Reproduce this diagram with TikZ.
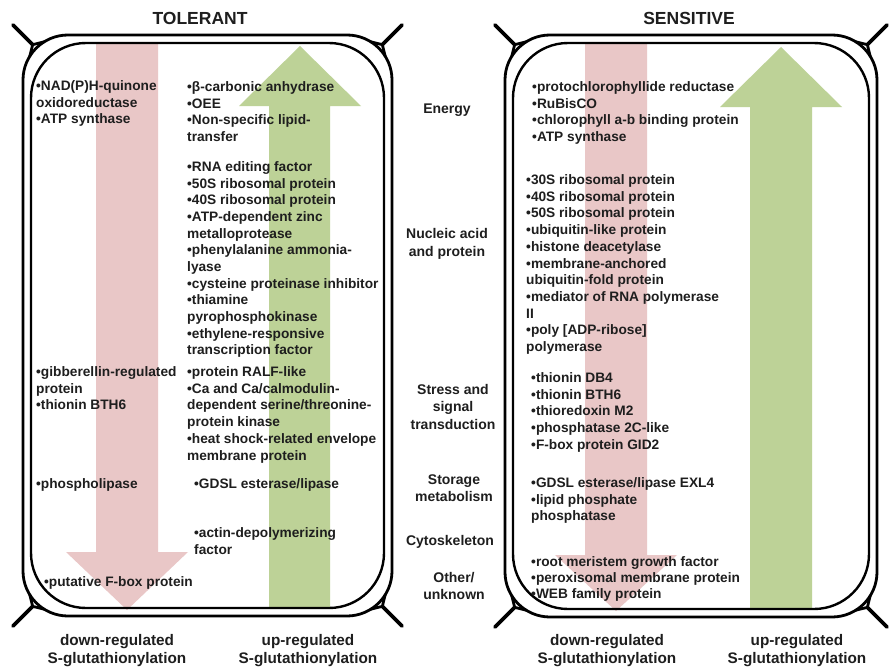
\documentclass[tikz,border=0pt]{standalone}
\usepackage{fontspec}
\setmainfont{Liberation Sans}
\definecolor{ink}{HTML}{1E1E1E}
\definecolor{downred}{HTML}{E9C7C7}
\definecolor{upgreen}{HTML}{BDD297}

% one junction of three cell walls at a rounded corner: arc centre (#1,#2), outward signs (#3,#4)
\newcommand\wallknot[4]{%
  \pgfmathsetmacro\kcx{#1}\pgfmathsetmacro\kcy{#2}%
  \draw[wall, line join=round]
    ({\kcx+#3*45*cos(32)},{\kcy+#4*45*sin(32)}) --
    ({\kcx+#3*50*0.7071},{\kcy+#4*50*0.7071}) --
    ({\kcx+#3*45*sin(32)},{\kcy+#4*45*cos(32)});
  \draw[spur] ({\kcx+#3*50*0.7071},{\kcy+#4*50*0.7071}) --
              ({\kcx+#3*78*0.7071},{\kcy+#4*78*0.7071});
}
% a plant cell: double wall with spurs at the four corners
\newcommand\plantcell[4]{%
  \draw[wall, rounded corners=45pt] (#1,#2) rectangle (#3,#4);
  \draw[inwall, rounded corners=55pt] ({#1+8},{#2+8}) rectangle ({#3-8},{#4-8});
  \wallknot{#1+45}{#2+45}{-1}{-1}
  \wallknot{#3-45}{#2+45}{1}{-1}
  \wallknot{#1+45}{#4-45}{-1}{1}
  \wallknot{#3-45}{#4-45}{1}{1}
}
% stacked text lines: style, name, x, first baseline, line skip, lines
\newcommand\lineblock[6]{%
  \foreach \itm [count=\k from 0] in {#6}
    \node[#1] (#2-\k) at ({#3},{#4+\k*#5}) {\itm};
}

\begin{document}
\begin{tikzpicture}[x=1pt,y=-1pt,
  wall/.style={line width=2.8pt, black},
  inwall/.style={line width=2.4pt, black},
  spur/.style={line width=3.6pt, black, line cap=round},
  item/.style={anchor=base west, inner sep=0pt, text=ink,
    font=\fontsize{13.7}{16.7}\selectfont\bfseries},
  cat/.style={anchor=base, inner sep=0pt, text=ink,
    font=\fontsize{14}{17}\selectfont\bfseries},
  title/.style={anchor=base, inner sep=0pt, text=ink,
    font=\fontsize{17.5}{20}\selectfont\bfseries},
  foot/.style={anchor=base, inner sep=0pt, text=ink,
    font=\fontsize{15.3}{18}\selectfont\bfseries},
  downarrow/.style={fill=downred, draw=none},
  uparrow/.style={fill=upgreen, draw=none},
]
\fill[white] (0,0) rectangle (889,669);
\useasboundingbox (0,0) rectangle (889,669);

% broad arrows behind the text
\fill[downarrow] (96,43) -- (158,43) -- (158,552) -- (188,552) -- (127,610)
  -- (66,552) -- (96,552) -- cycle;
\fill[uparrow] (269,608) -- (269,106) -- (239,106) -- (300,46) -- (361,106)
  -- (330,106) -- (330,608) -- cycle;
\fill[downarrow] (585,43) -- (647,43) -- (647,555) -- (677,555) -- (616,611)
  -- (555,555) -- (585,555) -- cycle;
\fill[uparrow] (750,609) -- (750,107) -- (720,107) -- (781,47) -- (842,107)
  -- (812,107) -- (812,609) -- cycle;

% the two cells
\plantcell{23}{35}{392}{616}
\plantcell{505}{35}{877}{617}

% headings
\node[title] (tol) at (200,24.5) {TOLERANT};
\node[title] (sen) at (689,24.5) {SENSITIVE};

% tolerant, down-regulated
\lineblock{item}{ta}{36}{90.5}{16.7}{•NAD(P)H-quinone,oxidoreductase,•ATP synthase}
\lineblock{item}{tb}{36}{376.5}{16.7}{•gibberellin-regulated,protein,•thionin BTH6}
\lineblock{item}{tc}{36}{488.5}{16.7}{•phospholipase}
\lineblock{item}{td}{44}{586.5}{16.7}{•putative F-box protein}

% tolerant, up-regulated
\lineblock{item}{ua}{187}{91.5}{16.7}{•β-carbonic anhydrase,•OEE,•Non-specific lipid-,transfer}
\lineblock{item}{ub}{187}{171.5}{16.65}{•RNA editing factor,•50S ribosomal protein,•40S ribosomal protein,•ATP-dependent zinc,metalloprotease,•phenylalanine ammonia-,lyase,•cysteine proteinase inhibitor,•thiamine,pyrophosphokinase,•ethylene-responsive,transcription factor}
\lineblock{item}{uc}{187}{376.5}{16.7}{•protein RALF-like,•Ca and Ca/calmodulin-,dependent serine/threonine-,protein kinase,•heat shock-related envelope,membrane protein}
\lineblock{item}{ud}{194}{488.5}{16.7}{•GDSL esterase/lipase}
\lineblock{item}{ue}{194}{537.5}{16.7}{•actin-depolymerizing,factor}

% functional categories
\lineblock{cat}{ca}{447}{113}{17.5}{Energy}
\lineblock{cat}{cb}{447}{238}{18}{Nucleic acid,and protein}
\lineblock{cat}{cc}{453}{394}{17.5}{Stress and,signal,transduction}
\lineblock{cat}{cd}{454}{484}{17.5}{Storage,metabolism}
\lineblock{cat}{ce}{450}{545}{17.5}{Cytoskeleton}
\lineblock{cat}{cf}{454}{582}{17.5}{Other/,unknown}

% sensitive, down-regulated
\lineblock{item}{sa}{532}{91.5}{16.7}{•protochlorophyllide reductase,•RuBisCO,•chlorophyll a-b binding protein,•ATP synthase}
\lineblock{item}{sb}{526}{184.5}{16.7}{•30S ribosomal protein,•40S ribosomal protein,•50S ribosomal protein,•ubiquitin-like protein,•histone deacetylase,•membrane-anchored,ubiquitin-fold protein,•mediator of RNA polymerase,II,{•poly [ADP-ribose]},polymerase}
\lineblock{item}{sc}{531}{382.5}{16.7}{•thionin DB4,•thionin BTH6,•thioredoxin M2,•phosphatase 2C-like,•F-box protein GID2}
\lineblock{item}{sd}{531}{487.5}{16.5}{•GDSL esterase/lipase EXL4,•lipid phosphate,phosphatase}
\lineblock{item}{se}{531}{566.5}{15.8}{•root meristem growth factor,•peroxisomal membrane protein,•WEB family protein}

% arrow legends
\lineblock{foot}{fa}{117}{645}{18}{down-regulated,S-glutathionylation}
\lineblock{foot}{fb}{308}{645}{18}{up-regulated,S-glutathionylation}
\lineblock{foot}{fc}{607}{645}{18}{down-regulated,S-glutathionylation}
\lineblock{foot}{fd}{797}{645}{18}{up-regulated,S-glutathionylation}
\end{tikzpicture}
\end{document}
